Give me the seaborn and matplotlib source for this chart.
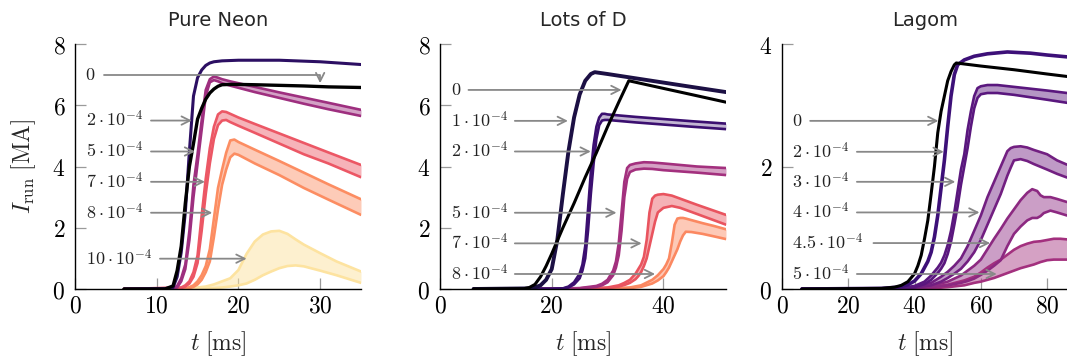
import numpy as np
import seaborn as sns
import matplotlib.pyplot as plt

# ---------------- Pure Neon ----------------
neon_t_dark = [6, 11, 12, 12.5, 13, 13.5, 14, 14.5, 15, 15.5, 16, 16.5, 17, 18, 20, 25, 30, 35]
neon_dark = [0, 0.01, 0.05, 0.4, 1.2, 2.5, 4.5, 6.3, 6.9, 7.15, 7.3, 7.38, 7.42, 7.45, 7.47, 7.47, 7.42, 7.33]

neon_t_black = [6, 11, 12, 12.5, 13, 13.5, 14, 14.5, 15, 15.5, 16, 16.5, 17, 17.5, 18, 19, 20, 22, 25, 28, 31, 35]
neon_black = [0, 0, 0.1, 0.6, 1.4, 2.8, 4.0, 4.75, 5.55, 5.9, 6.2, 6.4, 6.53, 6.62, 6.67, 6.68, 6.68, 6.67, 6.65, 6.63, 6.6, 6.58]

neon_t_mag = [6, 12, 12.5, 13, 13.5, 14, 14.5, 15, 15.5, 16, 16.5, 17, 17.5, 18, 19, 20, 22, 25, 28, 31, 35]
neon_mag_hi = [0, 0.03, 0.1, 0.35, 0.8, 1.9, 3.4, 4.4, 5.5, 6.5, 6.85, 6.94, 6.9, 6.85, 6.78, 6.72, 6.6, 6.42, 6.25, 6.08, 5.85]
neon_mag_lo = [0, 0.02, 0.05, 0.25, 0.65, 1.6, 3.0, 4.1, 5.2, 6.3, 6.75, 6.82, 6.78, 6.72, 6.64, 6.57, 6.43, 6.24, 6.05, 5.87, 5.65]

neon_t_red = [6, 13, 13.5, 14, 14.5, 15, 15.5, 16, 16.5, 17, 17.5, 18, 18.5, 19, 20, 22, 25, 28, 31, 35]
neon_red_hi = [0, 0.05, 0.12, 0.25, 0.55, 1.1, 2.4, 3.6, 4.6, 5.3, 5.7, 5.8, 5.78, 5.72, 5.6, 5.39, 5.08, 4.77, 4.46, 4.05]
neon_red_lo = [0, 0.03, 0.08, 0.18, 0.4, 0.85, 1.9, 3.1, 4.1, 4.9, 5.35, 5.5, 5.52, 5.45, 5.33, 5.1, 4.75, 4.4, 4.1, 3.65]

neon_t_org = [6, 13.5, 14, 14.5, 15, 15.5, 16, 16.5, 17, 17.5, 18, 18.5, 19, 19.5, 20, 22, 25, 28, 31, 35]
neon_org_hi = [0, 0.02, 0.06, 0.12, 0.25, 0.45, 0.75, 1.3, 2.3, 3.3, 3.9, 4.45, 4.85, 4.88, 4.8, 4.55, 4.18, 3.8, 3.42, 2.93]
neon_org_lo = [0, 0.01, 0.03, 0.07, 0.15, 0.3, 0.55, 0.9, 1.7, 2.6, 3.4, 3.9, 4.3, 4.42, 4.38, 4.1, 3.72, 3.3, 2.92, 2.42]

neon_t_yel = [6, 14, 16, 17, 18, 19, 20, 21, 22, 23, 24, 25, 26, 27, 28, 30, 32, 35]
neon_yel_hi = [0, 0.02, 0.08, 0.15, 0.25, 0.35, 0.62, 1.15, 1.55, 1.78, 1.88, 1.9, 1.8, 1.62, 1.45, 1.17, 0.9, 0.57]
neon_yel_lo = [0, 0, 0.02, 0.03, 0.05, 0.08, 0.12, 0.18, 0.3, 0.45, 0.57, 0.68, 0.75, 0.77, 0.74, 0.6, 0.45, 0.2]

# ---------------- Lots of D ----------------
lotsd_t_dark = [6, 16, 17, 18, 19, 20, 21, 22, 23, 24, 25, 26, 27, 27.7, 30, 35, 40, 45, 51.2]
lotsd_dark = [0, 0.02, 0.05, 0.12, 0.3, 0.65, 1.6, 3.1, 4.5, 5.6, 6.35, 6.8, 7.02, 7.08, 7.02, 6.88, 6.74, 6.6, 6.43]

lotsd_t_black = [6, 15, 16, 17, 18, 19, 20, 22, 24, 26, 28, 30, 32, 33.8, 40, 45, 51.2]
lotsd_black = [0, 0.01, 0.05, 0.15, 0.4, 0.75, 1.15, 2.0, 2.8, 3.65, 4.45, 5.3, 6.1, 6.8, 6.55, 6.35, 6.1]

lotsd_t_pur = [6, 20, 22, 23, 24, 25, 25.5, 26, 26.5, 27, 27.5, 28, 28.5, 29, 29.5, 30, 35, 40, 45, 51.2]
lotsd_pur_hi = [0, 0.01, 0.02, 0.08, 0.22, 0.5, 0.8, 1.4, 2.6, 3.8, 4.7, 5.3, 5.6, 5.72, 5.72, 5.7, 5.62, 5.55, 5.48, 5.4]
lotsd_pur_lo = [0, 0.005, 0.015, 0.05, 0.15, 0.35, 0.6, 1.0, 1.9, 3.1, 4.1, 4.9, 5.35, 5.5, 5.52, 5.52, 5.44, 5.37, 5.3, 5.22]

lotsd_t_mag = [6, 20, 25, 28, 29, 30, 31, 31.5, 32, 32.5, 33, 33.5, 34, 35, 36.5, 38, 40, 43, 46, 51.2]
lotsd_mag_hi = [0, 0.01, 0.03, 0.1, 0.17, 0.3, 0.6, 0.9, 1.5, 2.5, 3.5, 3.95, 4.05, 4.1, 4.14, 4.13, 4.1, 4.05, 4.0, 3.95]
lotsd_mag_lo = [0, 0, 0.02, 0.07, 0.12, 0.22, 0.45, 0.7, 1.1, 1.9, 3.0, 3.6, 3.82, 3.9, 3.93, 3.92, 3.88, 3.84, 3.8, 3.72]

lotsd_t_red = [6, 25, 30, 32, 33, 34, 35, 35.5, 36, 36.5, 37, 37.5, 38, 38.5, 39, 40, 41.5, 43, 46, 51.2]
lotsd_red_hi = [0, 0.01, 0.05, 0.12, 0.2, 0.3, 0.5, 0.65, 0.8, 1.05, 1.6, 2.5, 2.95, 3.05, 3.08, 3.1, 3.05, 2.95, 2.75, 2.42]
lotsd_red_lo = [0, 0, 0.03, 0.08, 0.13, 0.2, 0.32, 0.42, 0.55, 0.75, 1.0, 1.4, 1.8, 2.2, 2.5, 2.65, 2.71, 2.65, 2.45, 2.1]

lotsd_t_org = [6, 30, 34, 36, 38, 39, 40, 40.5, 41, 41.5, 42, 42.5, 43, 43.5, 44, 45, 47, 49, 51.2]
lotsd_org_hi = [0, 0.01, 0.05, 0.12, 0.3, 0.45, 0.65, 0.8, 1.0, 1.5, 2.1, 2.3, 2.32, 2.32, 2.3, 2.25, 2.15, 2.06, 1.95]
lotsd_org_lo = [0, 0, 0.03, 0.07, 0.18, 0.28, 0.42, 0.55, 0.7, 0.9, 1.1, 1.3, 1.55, 1.75, 1.87, 1.86, 1.8, 1.72, 1.63]

# ---------------- Lagom ----------------
lagom_t_black = [6, 30, 34, 36, 38, 40, 41, 42, 43, 44, 45, 46, 47, 48, 49, 50, 51, 52, 52.6, 60, 70, 80, 86]
lagom_black = [0, 0.01, 0.03, 0.06, 0.12, 0.25, 0.38, 0.55, 0.82, 1.12, 1.55, 2.0, 2.55, 2.9, 3.15, 3.4, 3.55, 3.66, 3.69, 3.64, 3.58, 3.51, 3.47]

lagom_t_dark = [6, 30, 35, 38, 40, 42, 43, 44, 45, 46, 47, 48, 49, 50, 51, 52, 53, 55, 58, 62, 68, 75, 80, 86]
lagom_dark = [0, 0.01, 0.03, 0.07, 0.13, 0.25, 0.35, 0.45, 0.6, 0.85, 1.2, 1.65, 2.1, 2.65, 3.15, 3.5, 3.66, 3.74, 3.8, 3.84, 3.87, 3.85, 3.82, 3.79]

lagom_t_p3 = [6, 35, 40, 43, 45, 47, 48, 49, 50, 51, 52, 53, 54, 55, 56, 57, 58, 59, 60, 62, 65, 70, 75, 80, 86]
lagom_p3_hi = [0, 0.01, 0.05, 0.12, 0.22, 0.35, 0.43, 0.55, 0.72, 0.95, 1.25, 1.6, 1.95, 2.2, 2.6, 2.9, 3.15, 3.28, 3.31, 3.33, 3.33, 3.3, 3.27, 3.24, 3.2]
lagom_p3_lo = [0, 0.005, 0.03, 0.08, 0.15, 0.26, 0.33, 0.42, 0.57, 0.77, 1.05, 1.35, 1.7, 2.0, 2.3, 2.65, 2.95, 3.12, 3.18, 3.2, 3.2, 3.17, 3.13, 3.09, 3.04]

lagom_t_p4 = [6, 35, 40, 45, 48, 50, 52, 54, 56, 58, 60, 62, 64, 66, 68, 69, 70, 72, 74, 76, 80, 83, 86]
lagom_p4_hi = [0, 0.01, 0.03, 0.1, 0.2, 0.28, 0.38, 0.5, 0.7, 0.95, 1.2, 1.5, 1.75, 2.0, 2.25, 2.3, 2.32, 2.33, 2.31, 2.27, 2.2, 2.1, 2.03]
lagom_p4_lo = [0, 0.005, 0.02, 0.06, 0.12, 0.18, 0.25, 0.33, 0.45, 0.6, 0.8, 1.05, 1.3, 1.55, 1.85, 1.98, 2.1, 2.12, 2.09, 2.04, 1.95, 1.88, 1.82]

lagom_t_p5 = [6, 35, 40, 45, 50, 54, 56, 58, 60, 62, 64, 66, 68, 70, 72, 74, 75.5, 77, 78, 79, 81, 83, 86]
lagom_p5_hi = [0, 0.005, 0.02, 0.05, 0.12, 0.22, 0.3, 0.38, 0.48, 0.65, 0.82, 0.98, 1.15, 1.3, 1.45, 1.57, 1.63, 1.6, 1.53, 1.5, 1.5, 1.47, 1.42]
lagom_p5_lo = [0, 0, 0.01, 0.03, 0.06, 0.1, 0.13, 0.17, 0.23, 0.3, 0.38, 0.47, 0.7, 0.9, 1.02, 1.12, 1.16, 1.16, 1.19, 1.24, 1.28, 1.25, 1.2]

lagom_t_p6 = [6, 40, 45, 50, 55, 58, 60, 62, 64, 66, 68, 70, 72, 74, 76, 78, 80, 82, 84, 86]
lagom_p6_hi = [0, 0.01, 0.03, 0.07, 0.14, 0.2, 0.27, 0.35, 0.42, 0.48, 0.56, 0.64, 0.7, 0.74, 0.77, 0.78, 0.8, 0.82, 0.82, 0.81]
lagom_p6_lo = [0, 0, 0.01, 0.03, 0.06, 0.1, 0.12, 0.15, 0.18, 0.22, 0.26, 0.3, 0.34, 0.37, 0.4, 0.44, 0.47, 0.48, 0.48, 0.48]

# ---------------- labels / ticks ----------------
titles = ["Pure Neon", "Lots of D", "Lagom"]
neon_labels = [r"$0$", r"$2\cdot10^{-4}$", r"$5\cdot10^{-4}$", r"$7\cdot10^{-4}$", r"$8\cdot10^{-4}$", r"$10\cdot10^{-4}$"]
lotsd_labels = [r"$0$", r"$1\cdot10^{-4}$", r"$2\cdot10^{-4}$", r"$5\cdot10^{-4}$", r"$7\cdot10^{-4}$", r"$8\cdot10^{-4}$"]
lagom_labels = [r"$0$", r"$2\cdot10^{-4}$", r"$3\cdot10^{-4}$", r"$4\cdot10^{-4}$", r"$4.5\cdot10^{-4}$", r"$5\cdot10^{-4}$"]

neon_xticks = [0, 10, 20, 30]
lotsd_xticks = [0, 20, 40]
lagom_xticks = [0, 20, 40, 60, 80]
big_yticks = [0, 2, 4, 6, 8]
small_yticks = [0, 2, 4]

# annotation placement: (label x, arrow start x, arrow tip x, y)
neon_ann = [(1.2, 3.6, 30.0, 7.0), (1.35, 9.3, 14.3, 5.5), (1.35, 9.3, 14.7, 4.49),
            (1.35, 9.3, 15.9, 3.5), (1.35, 9.3, 16.8, 2.49), (1.35, 10.4, 21.0, 0.99)]
lotsd_ann = [(1.9, 5.1, 32.5, 6.5), (1.9, 13.4, 22.9, 5.49), (1.9, 13.4, 27.0, 4.49),
             (1.9, 13.4, 31.6, 2.49), (1.9, 13.4, 36.1, 1.49), (1.9, 13.4, 38.5, 0.49)]
lagom_ann = [(3.0, 8.5, 47.2, 2.745), (3.0, 22.6, 48.8, 2.24), (3.0, 22.6, 52.3, 1.75),
             (3.0, 22.6, 59.6, 1.25), (3.0, 27.6, 62.8, 0.75), (3.0, 22.6, 64.8, 0.245)]

sns.set_theme(style="white")
plt.rcParams["font.family"] = ["DejaVu Sans"]
plt.rcParams["mathtext.fontset"] = "cm"


def band(ax, t, hi, lo, color, alpha=0.45):
    ax.fill_between(t, lo, hi, color=color, alpha=alpha, lw=0)
    sns.lineplot(x=t, y=hi, ax=ax, color=color, lw=1.9, sort=False, estimator=None)
    sns.lineplot(x=t, y=lo, ax=ax, color=color, lw=1.9, sort=False, estimator=None)


def line(ax, t, v, color, lw=2.1):
    sns.lineplot(x=t, y=v, ax=ax, color=color, lw=lw, sort=False, estimator=None)


def style(ax, title, xlim, ylim, xticks, yticks):
    ax.set_xlim(*xlim)
    ax.set_ylim(*ylim)
    ax.set_xticks(xticks, labels=[f"${v}$" for v in xticks])
    ax.set_yticks(yticks, labels=[f"${v}$" for v in yticks])
    for s in ["top", "right"]:
        ax.spines[s].set_visible(False)
    for s in ["left", "bottom"]:
        ax.spines[s].set_color("black")
        ax.spines[s].set_linewidth(1.0)
    ax.tick_params(axis="both", direction="in", length=8, width=0.9, color="#9a9a9a",
                   labelsize=17, labelcolor="black", bottom=True, left=True)
    ax.tick_params(axis="x", pad=3)
    ax.tick_params(axis="y", pad=7)
    ax.set_title(title, fontsize=14, pad=13)
    ax.set_xlabel(r"$t\ [\mathrm{ms}]$", fontsize=17, labelpad=9)


def annotate(ax, labels, ann, bend=None):
    for i, (lab, (xl, xs, xt, y)) in enumerate(zip(labels, ann)):
        ax.text(xl, y, lab, fontsize=13, color="#222222", ha="left", va="center")
        if bend is not None and i == 0:
            ax.annotate("", xy=(xt, bend), xytext=(xs, y),
                        arrowprops=dict(arrowstyle="->,head_length=0.5,head_width=0.25", color="#888888",
                                        lw=1.3, connectionstyle="angle,angleA=0,angleB=90,rad=0",
                                        shrinkA=0, shrinkB=0))
        else:
            ax.annotate("", xy=(xt, y), xytext=(xs, y),
                        arrowprops=dict(arrowstyle="->,head_length=0.5,head_width=0.25", color="#888888",
                                        lw=1.3, shrinkA=0, shrinkB=0))


fig = plt.figure(figsize=(10.67, 3.59), dpi=100)
W, H = 1067, 359
ax1 = fig.add_axes([75 / W, (H - 289) / H, 286 / W, 245 / H])
ax2 = fig.add_axes([440 / W, (H - 289) / H, 286 / W, 245 / H])
ax3 = fig.add_axes([782 / W, (H - 289) / H, 286 / W, 245 / H])

# Pure Neon
band(ax1, neon_t_yel, neon_yel_hi, neon_yel_lo, "#fde3a0", 0.5)
band(ax1, neon_t_org, neon_org_hi, neon_org_lo, "#fc8d62")
band(ax1, neon_t_red, neon_red_hi, neon_red_lo, "#ec5765")
band(ax1, neon_t_mag, neon_mag_hi, neon_mag_lo, "#9e2f7f")
line(ax1, neon_t_dark, neon_dark, "#2c0f63", 2.2)
line(ax1, neon_t_black, neon_black, "black", 2.4)
style(ax1, titles[0], (0, 35), (0, 8), neon_xticks, big_yticks)
ax1.set_ylabel(r"$I_{\mathrm{run}}\ [\mathrm{MA}]$", fontsize=17, labelpad=10)
annotate(ax1, neon_labels, neon_ann, bend=6.72)

# Lots of D
band(ax2, lotsd_t_org, lotsd_org_hi, lotsd_org_lo, "#fb8861")
band(ax2, lotsd_t_red, lotsd_red_hi, lotsd_red_lo, "#e9545f")
band(ax2, lotsd_t_mag, lotsd_mag_hi, lotsd_mag_lo, "#a3307e")
band(ax2, lotsd_t_pur, lotsd_pur_hi, lotsd_pur_lo, "#3b0f70", 0.3)
line(ax2, lotsd_t_dark, lotsd_dark, "#1c1044", 2.8)
line(ax2, lotsd_t_black, lotsd_black, "black", 2.2)
style(ax2, titles[1], (0, 51.2), (0, 8), lotsd_xticks, big_yticks)
ax2.set_ylabel("")
annotate(ax2, lotsd_labels, lotsd_ann)

# Lagom
band(ax3, lagom_t_p6, lagom_p6_hi, lagom_p6_lo, "#a3307e", 0.45)
band(ax3, lagom_t_p5, lagom_p5_hi, lagom_p5_lo, "#8c2981", 0.45)
band(ax3, lagom_t_p4, lagom_p4_hi, lagom_p4_lo, "#721f81", 0.45)
band(ax3, lagom_t_p3, lagom_p3_hi, lagom_p3_lo, "#5a177e", 0.45)
line(ax3, lagom_t_dark, lagom_dark, "#3d1078", 2.6)
line(ax3, lagom_t_black, lagom_black, "black", 2.2)
style(ax3, titles[2], (0, 86.3), (0, 4), lagom_xticks, small_yticks)
ax3.set_ylabel("")
annotate(ax3, lagom_labels, lagom_ann)

fig.savefig("out.png", dpi=100)
